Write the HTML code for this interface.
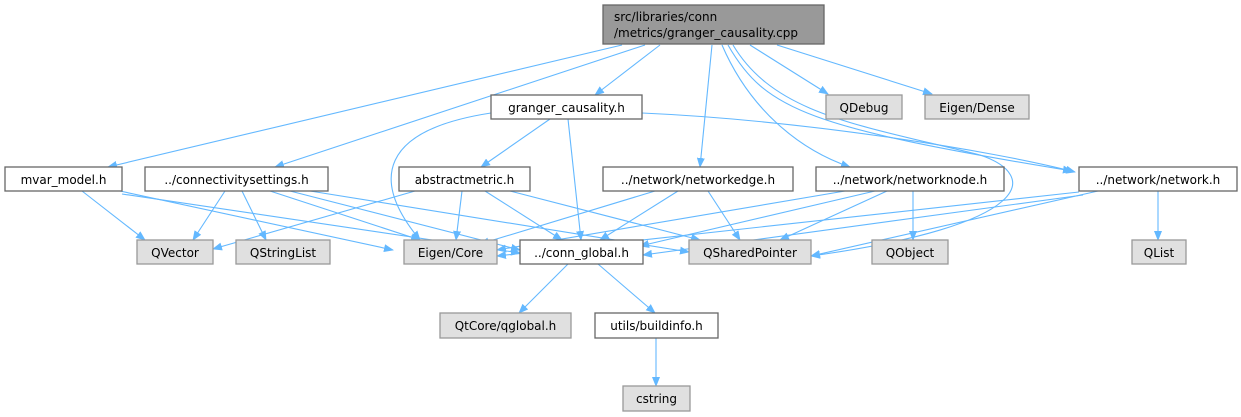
<!DOCTYPE html>
<html><head><meta charset="utf-8"><style>
html,body{margin:0;padding:0;background:#fff;}
svg{display:block;}
text{font-family:"DejaVu Sans","Liberation Sans",sans-serif;font-size:12px;fill:#000;}
.n{fill:#fff;stroke:#666;stroke-width:1.3;}
.g{fill:#e0e0e0;stroke:#999;stroke-width:1.3;}
.e{fill:none;stroke:#63b8ff;stroke-width:1.1;marker-end:url(#a);}
</style></head><body>
<svg width="1241" height="417" viewBox="0 0 1241 417" xmlns="http://www.w3.org/2000/svg">
<defs><marker id="a" markerWidth="10" markerHeight="8" refX="9" refY="4" orient="auto" markerUnits="userSpaceOnUse"><path d="M0,0 L10,4 L0,8 Z" fill="#63b8ff"/></marker></defs>

<path class="e" d="M660,45 L595,95"/>
<path class="e" d="M750,45 L828,94"/>
<path class="e" d="M777,45 L932,94"/>
<path class="e" d="M622,45 L108,167"/>
<path class="e" d="M645,45 L275,167"/>
<path class="e" d="M712,45 L700,167"/>
<path class="e" d="M722,45 C750,110 800,150 850,167"/>
<path class="e" d="M728,45 C765,110 810,128 1072,171"/>
<path class="e" d="M733,45 C775,115 860,125 980,155 C1040,175 1035,225 811,256"/>
<path class="e" d="M491,113 C380,130 370,180 420,240"/>
<path class="e" d="M550,119 L481,167"/>
<path class="e" d="M568,119 L581,240"/>
<path class="e" d="M642,113 C800,120 990,150 1075,172"/>
<path class="e" d="M82,191 L145,240"/>
<path class="e" d="M120,191 L393,250"/>
<path class="e" d="M122,194 L520,253"/>
<path class="e" d="M225,191 L193,240"/>
<path class="e" d="M242,191 L266,240"/>
<path class="e" d="M270,191 L420,240"/>
<path class="e" d="M290,191 L520,250"/>
<path class="e" d="M310,191 L689,252"/>
<path class="e" d="M415,191 L213,249"/>
<path class="e" d="M462,191 L456,240"/>
<path class="e" d="M485,191 L562,240"/>
<path class="e" d="M510,191 L700,240"/>
<path class="e" d="M655,191 L480,244"/>
<path class="e" d="M678,191 L600,240"/>
<path class="e" d="M708,191 L740,240"/>
<path class="e" d="M845,191 L497,250"/>
<path class="e" d="M875,191 L640,246"/>
<path class="e" d="M887,191 L780,240"/>
<path class="e" d="M913,191 L913,240"/>
<path class="e" d="M1079,192 L497,256"/>
<path class="e" d="M1083,195 L643,255"/>
<path class="e" d="M1098,191 L811,256"/>
<path class="e" d="M1158,191 L1158,240"/>
<path class="e" d="M568,264 L519,313"/>
<path class="e" d="M598,264 L655,313"/>
<path class="e" d="M656,337 L656,386"/>

<rect class="n" x="603" y="5" width="221" height="39" style="fill:#999"/>
<text x="614" y="21">src/libraries/conn</text>
<text x="614" y="37">/metrics/granger_causality.cpp</text>

<rect class="n" x="491" y="95" width="151" height="24"/><text x="566.5" y="112" text-anchor="middle">granger_causality.h</text>
<rect class="g" x="826" y="95" width="76" height="24"/><text x="864" y="112" text-anchor="middle">QDebug</text>
<rect class="g" x="925" y="95" width="104" height="24"/><text x="977" y="112" text-anchor="middle">Eigen/Dense</text>

<rect class="n" x="5" y="167" width="117" height="24"/><text x="63.5" y="184" text-anchor="middle">mvar_model.h</text>
<rect class="n" x="145" y="167" width="183" height="24"/><text x="236.5" y="184" text-anchor="middle">../connectivitysettings.h</text>
<rect class="n" x="399" y="167" width="131" height="24"/><text x="464.5" y="184" text-anchor="middle">abstractmetric.h</text>
<rect class="n" x="603" y="167" width="190" height="24"/><text x="698" y="184" text-anchor="middle">../network/networkedge.h</text>
<rect class="n" x="816" y="167" width="188" height="24"/><text x="910" y="184" text-anchor="middle">../network/networknode.h</text>
<rect class="n" x="1079" y="167" width="158" height="24"/><text x="1158" y="184" text-anchor="middle">../network/network.h</text>

<rect class="g" x="137" y="240" width="76" height="24"/><text x="175" y="257" text-anchor="middle">QVector</text>
<rect class="g" x="236" y="240" width="94" height="24"/><text x="283" y="257" text-anchor="middle">QStringList</text>
<rect class="g" x="404" y="240" width="93" height="24"/><text x="450.5" y="257" text-anchor="middle">Eigen/Core</text>
<rect class="n" x="520" y="240" width="123" height="24"/><text x="581.5" y="257" text-anchor="middle">../conn_global.h</text>
<rect class="g" x="689" y="240" width="122" height="24"/><text x="750" y="257" text-anchor="middle">QSharedPointer</text>
<rect class="g" x="872" y="240" width="76" height="24"/><text x="910" y="257" text-anchor="middle">QObject</text>
<rect class="g" x="1132" y="240" width="54" height="24"/><text x="1159" y="257" text-anchor="middle">QList</text>

<rect class="g" x="440" y="313" width="131" height="25"/><text x="505.5" y="330" text-anchor="middle">QtCore/qglobal.h</text>
<rect class="n" x="595" y="313" width="123" height="25"/><text x="656.5" y="330" text-anchor="middle">utils/buildinfo.h</text>
<rect class="g" x="623" y="386" width="67" height="25"/><text x="656.5" y="403" text-anchor="middle">cstring</text>
</svg>
</body></html>
